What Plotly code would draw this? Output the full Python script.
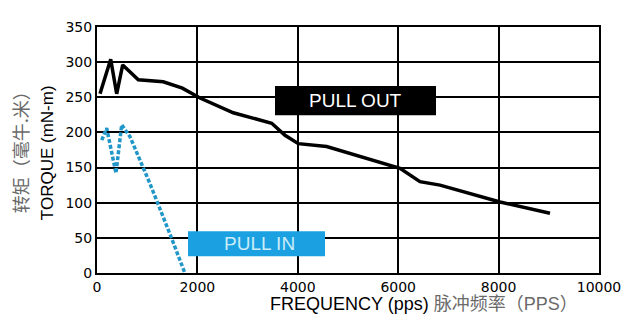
import plotly.graph_objects as go

# Pull-out torque curve (black)
pullout_freq = [60, 273, 392, 512, 823, 1321, 1700, 2052, 2715, 3480, 3745, 4010, 4575, 5372, 5637, 6036, 6434, 6833, 8028, 9024]
pullout_torque = [255, 304, 255, 296, 275, 272, 263, 249, 228, 213, 196, 184, 180, 163, 158, 149, 130, 125, 101, 85]

# Pull-in torque curve (cyan dotted)
pullin_freq = [94, 193, 378, 492, 657, 1056, 1488, 1750]
pullin_torque = [189, 206, 142, 211, 194, 127, 49, 0]

x_ticks = [0, 2000, 4000, 6000, 8000, 10000]
x_tick_text = ["0", "2000", "4000", "6000", "8000", "10000"]
y_ticks = [0, 50, 100, 150, 200, 250, 300, 350]
y_tick_text = ["0", "50", "100", "150", "200", "250", "300", "350"]

EN = "Liberation Sans, Arial, Noto Sans CJK SC, sans-serif"

fig = go.Figure()
fig.add_trace(go.Scatter(x=pullout_freq, y=pullout_torque, mode="lines",
                         line=dict(color="black", width=3.5), showlegend=False))
fig.add_trace(go.Scatter(x=pullin_freq, y=pullin_torque, mode="lines",
                         line=dict(color="#2196c8", width=3.5, dash="4px,2px"), showlegend=False))

# label boxes
fig.add_shape(type="rect", x0=3546, x1=6753, y0=224.6, y1=266, xref="x", yref="y",
              fillcolor="black", line=dict(width=0), layer="above")
fig.add_annotation(x=5159, y=246, xref="x", yref="y", text="PULL OUT", showarrow=False,
                   font=dict(family=EN, size=19, color="white"))
fig.add_shape(type="rect", x0=1813, x1=4542, y0=23.8, y1=59.4, xref="x", yref="y",
              fillcolor="#1ba1e2", line=dict(width=0), layer="above")
fig.add_annotation(x=3227, y=41.6, xref="x", yref="y", text="PULL IN", showarrow=False,
                   font=dict(family=EN, size=19, color="#c8ecf8"))

# axis titles
fig.add_annotation(x=(268 - 97) / 502, y=(272.7 - 304) / 245.7, xref="paper", yref="paper",
                   xanchor="left", yanchor="middle", showarrow=False,
                   text="FREQUENCY (pps) <span style='color:#6a6a6a'>脉冲频率（PPS）</span>",
                   font=dict(family=EN, size=18, color="black"))
fig.add_annotation(x=(47 - 97) / 502, y=(272.7 - 153) / 245.7, xref="paper", yref="paper",
                   xanchor="center", yanchor="middle",
                   textangle=-90, showarrow=False, text="TORQUE (mN-m)",
                   font=dict(family=EN, size=17, color="black"))
fig.add_annotation(x=(20 - 97) / 502, y=(272.7 - 148) / 245.7, xref="paper", yref="paper",
                   xanchor="center", yanchor="middle",
                   textangle=-90, showarrow=False, text="转矩（毫牛.米）",
                   font=dict(family="Noto Sans CJK SC, sans-serif", size=18, color="#6a6a6a"))

fig.update_xaxes(range=[0, 10000], tickvals=x_ticks, ticktext=x_tick_text, showgrid=True,
                 gridcolor="black", gridwidth=2,
                 showline=True, linecolor="black", linewidth=2, mirror=True, zeroline=False,
                 ticks="", tickfont=dict(family="DejaVu Sans", size=14, color="black"))
fig.update_yaxes(range=[0, 350], tickvals=y_ticks, ticktext=y_tick_text, showgrid=True,
                 gridcolor="black", gridwidth=2,
                 showline=True, linecolor="black", linewidth=2, mirror=True, zeroline=False,
                 ticks="", tickfont=dict(family="DejaVu Sans", size=14, color="black"))

fig.update_layout(width=640, height=324, margin=dict(l=97, r=41, t=27, b=51),
                  plot_bgcolor="white", paper_bgcolor="white")
fig.write_html("out.html")
